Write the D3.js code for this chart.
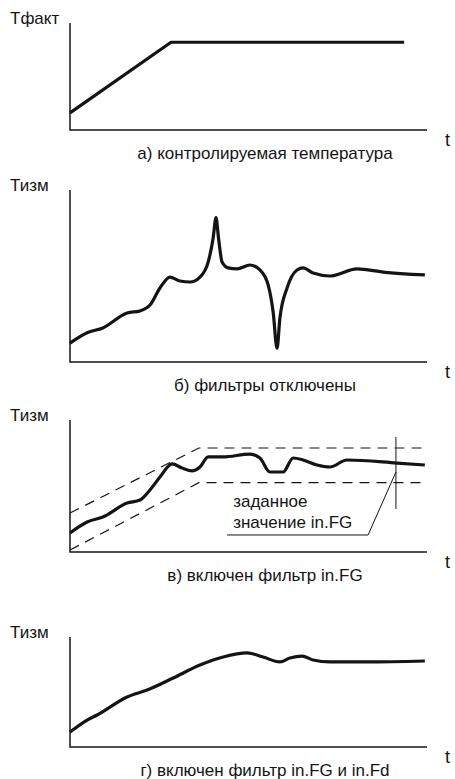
<!DOCTYPE html>
<html>
<head>
<meta charset="utf-8">
<script src="https://cdn.jsdelivr.net/npm/d3@7"></script>
<style>
  body { margin: 0; background: #fff; }
  text { font-family: "Liberation Sans", Arial, sans-serif; fill: #141414; }
</style>
</head>
<body>
<svg id="chart"></svg>
<script>
// time runs 0..100 along every axis, value 0..100 up every axis
const curveA = [[0, 16], [28.3, 82], [93.6, 82]]

const curveB = [
  [0, 11], [4.8, 17], [9.2, 19.8], [16, 28.5], [19.6, 29.7], [22.4, 33.1],
  [25.2, 43], [28, 49.4], [30.8, 47.1], [33.6, 46.5], [36.4, 49.4], [38.7, 58.1],
  [40.1, 72.1], [40.9, 84], [41.6, 72.1], [42.6, 58.1], [44.3, 54.7], [46.8, 54.1],
  [50.4, 56.4], [53.2, 53.5], [55.5, 44.8], [56.9, 29.1], [58, 8], [58.8, 25.6],
  [60.8, 43], [63.6, 53.5], [65.3, 54.7], [68.1, 51.7], [72.8, 50],
  [80.4, 54.1], [87.7, 52.3], [99.4, 50.6]
]

const curveC = [
  [0, 14.4], [4.8, 22.7], [9.2, 26.5], [16, 37.1], [19.6, 39.4], [22.4, 47],
  [25.2, 56.8], [28.6, 66.7], [31.4, 63.6], [34.2, 61.4], [36.4, 64.4], [38.7, 72],
  [42.9, 72], [50.4, 74.2], [53.2, 71.2], [56, 60.6], [59.7, 60.6], [62.5, 71.2],
  [65.3, 69.7], [69.2, 65.9], [72.8, 64.4], [77.6, 69.7], [91.6, 67.4], [99.4, 65.9]
]
const bandUpper = [[0, 29.5], [36.1, 78.8], [100, 78.8]]
const bandLower = [[0, 1.5], [36.1, 52.5], [100, 52.5]]
const markerT = 91.3
const markerRange = [32.6, 87.1]
const pointer = [[44, 12.9], [83.5, 12.9], [91.3, 60.6]]
const noteLines = ['заданное', 'значение in.FG']
const noteValues = [39, 22.5]

const curveD = [
  [0, 13.6], [4.8, 24.5], [7.6, 29.1], [16, 45.5], [21.6, 51.8], [28.9, 62.7],
  [36.4, 74.5], [42.9, 81.8], [49.6, 85.5], [54.1, 81.8], [58.8, 77.3],
  [61.6, 80.9], [65, 82.7], [68.1, 79.1], [72.8, 77.3], [83.2, 77.3], [99.4, 78.2]
]

const yLabels = ['Тфакт', 'Тизм', 'Тизм', 'Тизм']
const captions = [
  'а) контролируемая температура',
  'б) фильтры отключены',
  'в) включен фильтр in.FG',
  'г) включен фильтр in.FG и in.Fd'
]
const curves = [curveA, curveB, curveC, curveD]

const width = 455, height = 779
const panels = [
  { top: 23, bottom: 130 },
  { top: 190, bottom: 362 },
  { top: 420, bottom: 552 },
  { top: 637, bottom: 747 }
]

const svg = d3.select('#chart')
  .attr('width', width)
  .attr('height', height)
  .attr('viewBox', [0, 0, width, height])

const x = d3.scaleLinear().domain([0, 100]).range([70, 427])

panels.forEach((p, i) => {
  const y = d3.scaleLinear().domain([0, 100]).range([p.bottom, p.top])
  const g = svg.append('g')

  const line = d3.line()
    .x(d => x(d[0]))
    .y(d => y(d[1]))

  // axes
  g.append('path')
    .attr('d', `M${x(0)},${y(100)}V${y(0)}H${x(100)}`)
    .attr('fill', 'none')
    .attr('stroke', '#141414')
    .attr('stroke-width', 1.5)

  g.append('text')
    .attr('x', 10)
    .attr('y', p.top + 1)
    .attr('font-size', 17)
    .text(yLabels[i])

  g.append('text')
    .attr('x', 445)
    .attr('y', p.bottom + 16)
    .attr('font-size', 18)
    .text('t')

  g.append('text')
    .attr('x', 265)
    .attr('y', p.bottom + 29)
    .attr('text-anchor', 'middle')
    .attr('font-size', 17)
    .text(captions[i])

  if (i === 2) {
    [bandUpper, bandLower].forEach(b => {
      g.append('path')
        .attr('d', line(b))
        .attr('fill', 'none')
        .attr('stroke', '#141414')
        .attr('stroke-width', 1.2)
        .attr('stroke-dasharray', '10,7')
    })
    g.append('line')
      .attr('x1', x(markerT)).attr('x2', x(markerT))
      .attr('y1', y(markerRange[0])).attr('y2', y(markerRange[1]))
      .attr('stroke', '#141414')
      .attr('stroke-width', 1)
    g.append('path')
      .attr('d', line(pointer))
      .attr('fill', 'none')
      .attr('stroke', '#141414')
      .attr('stroke-width', 1)
    noteLines.forEach((t, k) => {
      g.append('text')
        .attr('x', x(45.7))
        .attr('y', y(noteValues[k]) + 6)
        .attr('font-size', 17)
        .text(t)
    })
  }

  g.append('path')
    .attr('d', (i === 0 ? line : line.curve(d3.curveMonotoneX))(curves[i]))
    .attr('fill', 'none')
    .attr('stroke', '#141414')
    .attr('stroke-width', 3.2)
    .attr('stroke-linejoin', 'round')
})
</script>
</body>
</html>
